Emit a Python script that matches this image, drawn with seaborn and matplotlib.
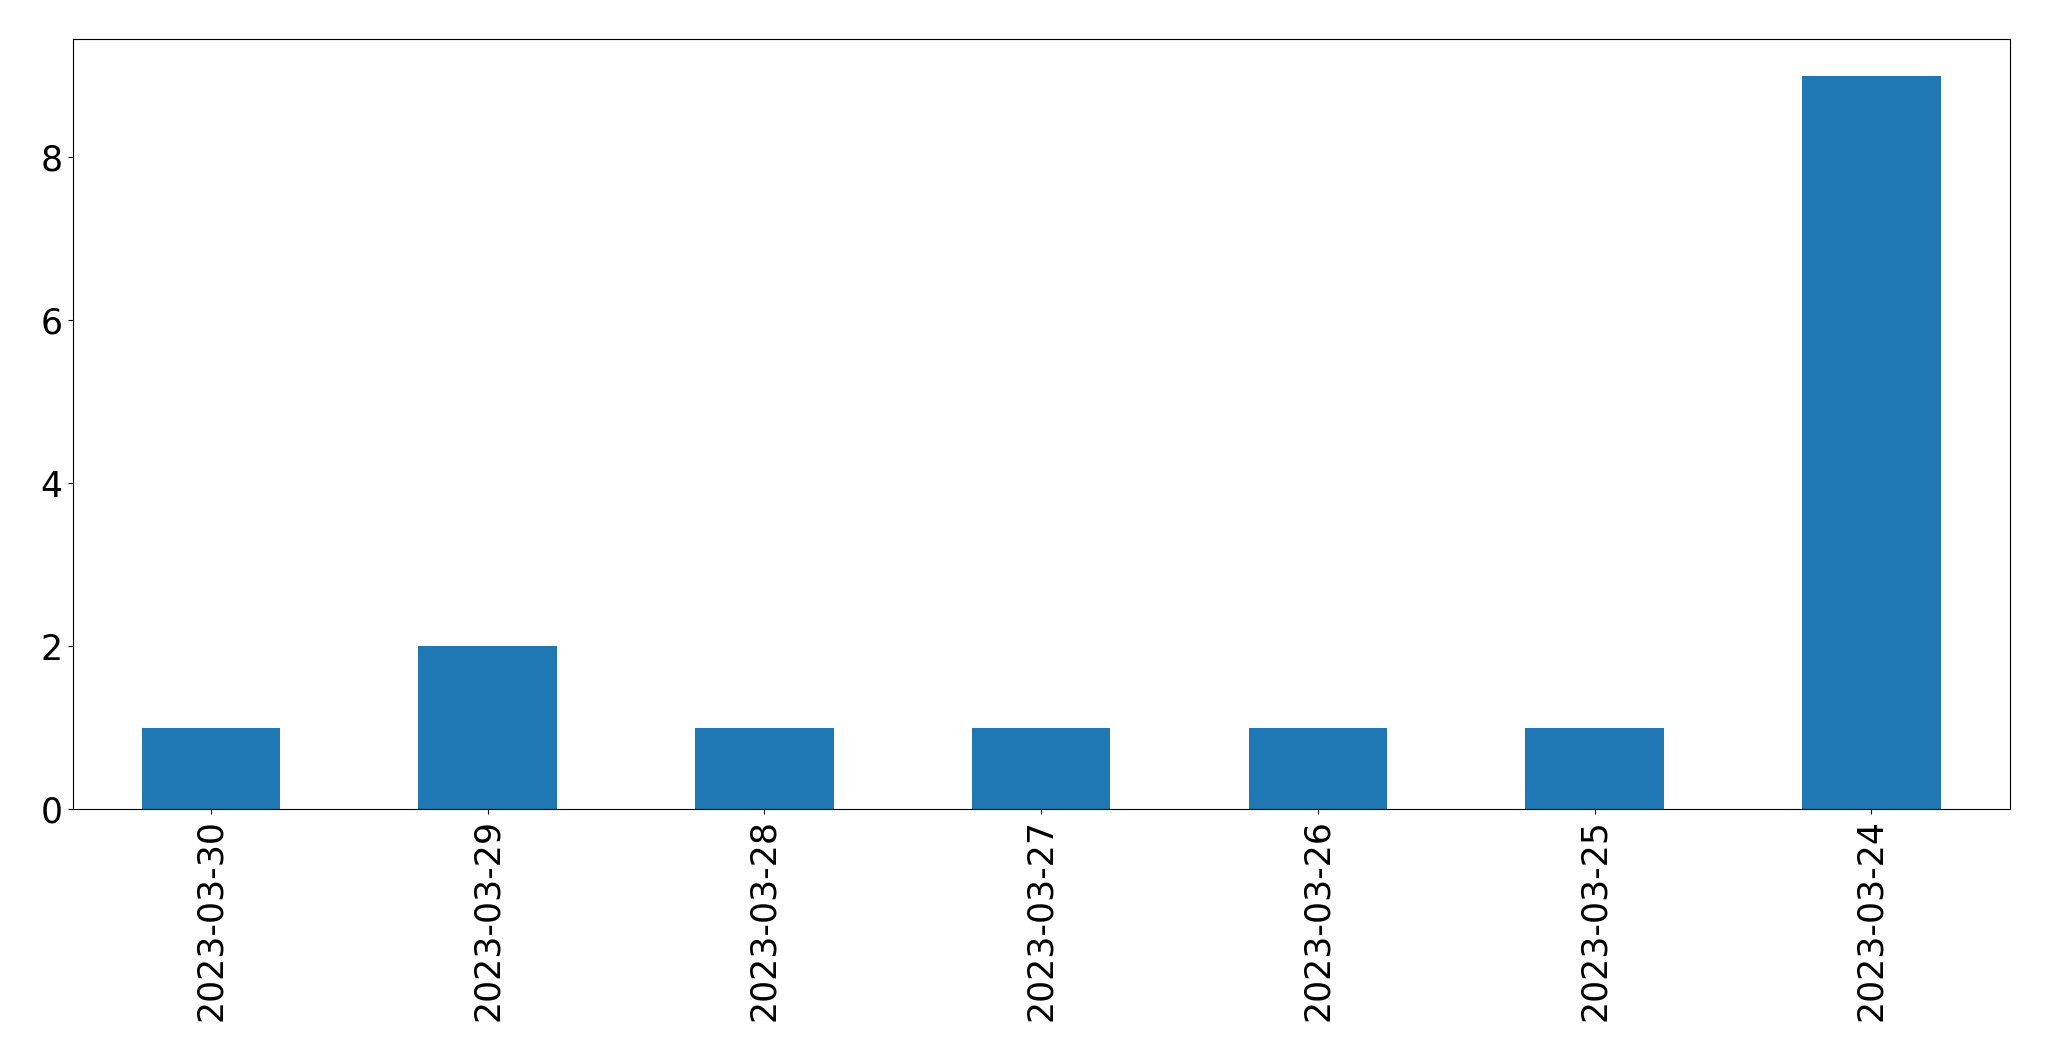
import matplotlib
matplotlib.use("Agg")
import matplotlib.pyplot as plt
import seaborn as sns
import pandas as pd

dates = ["2023-03-30", "2023-03-29", "2023-03-28", "2023-03-27",
         "2023-03-26", "2023-03-25", "2023-03-24"]
counts = [1, 2, 1, 1, 1, 1, 9]

df = pd.DataFrame({"date": dates, "count": counts})

fig = plt.figure(figsize=(20.49, 10.61), dpi=100)
ax = fig.add_axes([72.5 / 2049, 1 - 809 / 1061, (2009.7 - 72.5) / 2049, (809 - 39.3) / 1061])
sns.barplot(data=df, x="date", y="count", order=dates, color="#1f77b4",
            saturation=1, width=0.5, ax=ax, errorbar=None)
ax.set_xlim(-0.5, len(dates) - 0.5)
ax.set_ylim(0, max(counts) * 1.05)
ax.set_xlabel("")
ax.set_ylabel("")
ax.tick_params(axis="both", labelsize=25)
plt.setp(ax.get_xticklabels(), rotation=90)
fig.savefig("out.png", dpi=100)
